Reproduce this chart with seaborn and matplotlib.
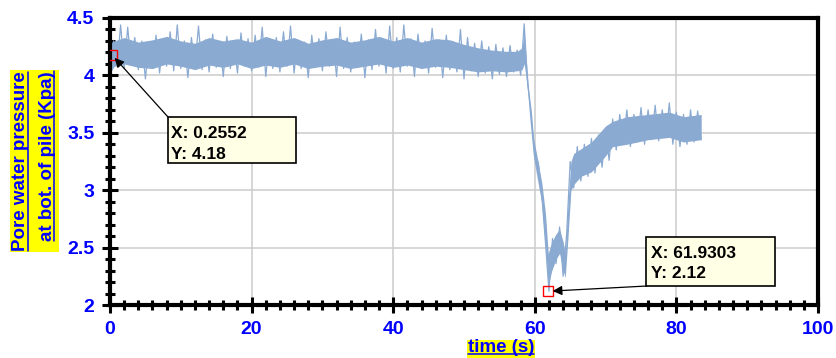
import numpy as np
import pandas as pd
import matplotlib
matplotlib.use("Agg")
import matplotlib.pyplot as plt
import seaborn as sns
from matplotlib.patches import Rectangle
from matplotlib.lines import Line2D
from matplotlib.ticker import MultipleLocator

# ---------------- data ----------------
sample_step = 0.5  # s between readings of the trace below
pressure_trace = [
    4.00, 4.30, 4.08, 4.44, 4.06, 4.42, 4.09, 4.33, 4.05, 4.30,
    3.97, 4.28, 4.06, 4.35, 4.02, 4.31, 4.08, 4.38, 4.04, 4.44,
    4.06, 4.30, 3.98, 4.33, 4.08, 4.43, 4.05, 4.31, 4.03, 4.36,
    4.07, 4.29, 3.99, 4.34, 4.06, 4.30, 4.02, 4.37, 4.08, 4.32,
    4.04, 4.35, 4.07, 4.42, 3.99, 4.30, 4.06, 4.33, 4.03, 4.38,
    4.08, 4.43, 4.02, 4.31, 4.06, 4.29, 3.98, 4.35, 4.07, 4.32,
    4.04, 4.38, 4.08, 4.30, 3.99, 4.42, 4.06, 4.33, 4.03, 4.29,
    4.07, 4.36, 3.98, 4.31, 4.05, 4.40, 4.08, 4.30, 4.02, 4.43,
    4.06, 4.33, 4.03, 4.44, 4.08, 4.32, 3.99, 4.36, 4.06, 4.30,
    4.02, 4.41, 4.07, 4.31, 3.98, 4.35, 4.05, 4.29, 4.03, 4.40,
    3.97, 4.33, 4.04, 4.28, 3.99, 4.30, 4.02, 4.25, 3.97, 4.27,
    4.01, 4.24, 3.99, 4.26, 4.03, 4.22,
    4.00, 4.45, 3.92, 3.68, 3.30, 3.24, 2.95, 2.55, 2.12, 2.58,
    2.36, 2.68, 2.25, 2.62, 3.25, 3.02, 3.38, 3.08, 3.40, 3.12,
    3.45, 3.15, 3.48, 3.20, 3.52, 3.26, 3.62, 3.35, 3.66, 3.40,
    3.70, 3.38, 3.66, 3.42, 3.72, 3.40, 3.70, 3.44, 3.74, 3.43,
    3.70, 3.46, 3.76, 3.40, 3.68, 3.38, 3.66, 3.40, 3.70, 3.42,
    3.69, 3.44,
]
env_time = [0, 0.6, 2, 4, 6, 8, 10, 12, 14, 16, 18, 20, 22, 24, 26, 28, 30,
            32, 34, 36, 38, 40, 42, 44, 46, 48, 50, 52, 54, 56, 57.5, 58.2,
            58.5, 58.9, 59.3, 59.8, 60.3, 61.0, 61.5, 61.9, 62.4, 63.0, 63.5,
            64.0, 64.3, 64.7, 65.1, 65.5, 66.5, 68, 70, 71, 73, 76, 79, 81, 83.5]
env_low = [4.02, 4.08, 4.10, 4.07, 4.06, 4.10, 4.08, 4.05, 4.09, 4.07, 4.10,
           4.06, 4.09, 4.07, 4.10, 4.06, 4.08, 4.09, 4.06, 4.08, 4.10, 4.07,
           4.09, 4.06, 4.08, 4.07, 4.05, 4.03, 4.04, 4.03, 4.04, 4.05,
           4.10, 3.92, 3.62, 3.30, 3.12, 2.88, 2.50, 2.17, 2.30, 2.40, 2.45,
           2.30, 2.24, 2.60, 3.00, 3.05, 3.12, 3.16, 3.30, 3.38, 3.40, 3.44,
           3.46, 3.42, 3.44]
env_high = [4.28, 4.30, 4.33, 4.29, 4.31, 4.34, 4.30, 4.28, 4.33, 4.30, 4.32,
            4.29, 4.34, 4.30, 4.33, 4.28, 4.31, 4.33, 4.29, 4.31, 4.34, 4.30,
            4.33, 4.29, 4.32, 4.31, 4.27, 4.24, 4.22, 4.21, 4.21, 4.24,
            4.38, 4.05, 3.76, 3.46, 3.30, 3.06, 2.80, 2.45, 2.55, 2.62, 2.66,
            2.55, 2.45, 2.90, 3.25, 3.32, 3.36, 3.42, 3.56, 3.60, 3.64, 3.66,
            3.68, 3.64, 3.66]
tip1_x, tip1_y = 0.2552, 4.18
tip2_x, tip2_y = 61.9303, 2.12
tip1_text = ["X: 0.2552", "Y: 4.18"]
tip2_text = ["X: 61.9303", "Y: 2.12"]
x_ticks = [0, 20, 40, 60, 80, 100]
x_tick_labels = ["0", "20", "40", "60", "80", "100"]
y_ticks = [2, 2.5, 3, 3.5, 4, 4.5]
y_tick_labels = ["2", "2.5", "3", "3.5", "4", "4.5"]
ylabel_lines = ["Pore water pressure", "at bot. of pile (Kpa)"]
xlabel_text = "time (s)"

# ---------------- style ----------------
sns.set_style("white")
plt.rcParams['font.family'] = ['Liberation Sans', 'DejaVu Sans']

W, H = 837, 358
fig = plt.figure(figsize=(W / 100, H / 100), dpi=100)
ax = fig.add_axes([110 / W, 1 - 305 / H, (818 - 110) / W, (305 - 18) / H])

def fx(px):
    return px / W

def fy(py):
    return 1 - py / H

line_color = '#8AAAD2'
time = np.arange(len(pressure_trace)) * sample_step
df = pd.DataFrame({'time': time, 'pressure': pressure_trace})

ax.fill_between(env_time, env_low, env_high, color=line_color, lw=0, zorder=2)
sns.lineplot(data=df, x='time', y='pressure', ax=ax, color=line_color,
             linewidth=0.9, sort=False, estimator=None, zorder=2.1)

ax.set_xlim(0, 100)
ax.set_ylim(2, 4.5)
ax.set_xlabel('')
ax.set_ylabel('')
ax.set_xticks(x_ticks, x_tick_labels)
ax.set_yticks(y_ticks, y_tick_labels)
ax.xaxis.set_minor_locator(MultipleLocator(2))
ax.yaxis.set_minor_locator(MultipleLocator(0.1))
ax.grid(True, which='major', color='#CCCCCC', lw=1.1)
ax.set_axisbelow(True)
ax.tick_params(which='major', direction='inout', length=11.5, width=2.2,
               color='black', labelsize=14, labelcolor='#0000FF', pad=5.5,
               left=True, bottom=True)
ax.tick_params(which='minor', direction='inout', length=7, width=2.2,
               color='black', left=True, bottom=True)
for lab in ax.get_xticklabels() + ax.get_yticklabels():
    lab.set_fontweight('bold')
for sp in ax.spines.values():
    sp.set_color('black')
    sp.set_linewidth(3)

# data tip markers
ax.plot([tip1_x], [tip1_y], marker='s', ms=7, mfc='none', mec='red', mew=1, zorder=5)
ax.plot([tip2_x], [tip2_y], marker='s', ms=7, mfc='none', mec='red', mew=1, zorder=5)

arrow = dict(arrowstyle='-|>', color='black', lw=0.9, shrinkA=0, shrinkB=3,
             mutation_scale=14)
ax.annotate('', xy=(tip1_x, tip1_y), xycoords='data',
            xytext=(fx(168), fy(117)), textcoords='figure fraction',
            arrowprops=arrow, zorder=6)
ax.annotate('', xy=(tip2_x, tip2_y), xycoords='data',
            xytext=(fx(647), fy(286)), textcoords='figure fraction',
            arrowprops=arrow, zorder=6)

# data tip boxes
for (l, t, r, b) in [(168, 117, 296, 163), (646, 237, 775, 286)]:
    fig.add_artist(Rectangle((fx(l), fy(b)), (r - l) / W, (b - t) / H,
                             transform=fig.transFigure, fc='#FFFFE6',
                             ec='black', lw=1.2, zorder=8))
for (tx, base1, base2, lines) in [(171.5, 138.5, 159.3, tip1_text),
                                  (651.5, 257.5, 278.5, tip2_text)]:
    fig.text(fx(tx), fy(base1), lines[0], fontsize=12.5, fontweight='bold',
             color='black', va='baseline', ha='left', zorder=9)
    fig.text(fx(tx), fy(base2), lines[1], fontsize=12.5, fontweight='bold',
             color='black', va='baseline', ha='left', zorder=9)

# axis labels with yellow backgrounds and underlines
label_blue = '#0000FF'
fig.add_artist(Rectangle((fx(10), fy(252)), 49 / W, 182 / H,
                         transform=fig.transFigure, fc='#FFFF00', ec='none', zorder=1))
fig.add_artist(Rectangle((fx(467), fy(358)), 68 / W, 18 / H,
                         transform=fig.transFigure, fc='#FFFF00', ec='none', zorder=1))

ylab_texts = []
for base_x, cy, s in [(25.5, 161.5, ylabel_lines[0]), (52, 156, ylabel_lines[1])]:
    t = fig.text(fx(base_x), fy(cy), s, fontsize=13.5, fontweight='bold',
                 color=label_blue, rotation=90, rotation_mode='anchor',
                 ha='center', va='baseline', zorder=3)
    ylab_texts.append((base_x, t))
xl = fig.text(fx(501), fy(351.5), xlabel_text, fontsize=13.5, fontweight='bold',
              color=label_blue, ha='center', va='baseline', zorder=3)

fig.canvas.draw()
renderer = fig.canvas.get_renderer()
for base_x, t in ylab_texts:
    bb = t.get_window_extent(renderer)
    ux = base_x + 2.2
    fig.add_artist(Line2D([fx(ux), fx(ux)], [bb.y0 / H, bb.y1 / H],
                          transform=fig.transFigure, color=label_blue, lw=1.1, zorder=3))
bb = xl.get_window_extent(renderer)
uy = 353.8
fig.add_artist(Line2D([bb.x0 / W, bb.x1 / W], [fy(uy), fy(uy)],
                      transform=fig.transFigure, color=label_blue, lw=1.1, zorder=3))

fig.savefig('out.png', dpi=100)
